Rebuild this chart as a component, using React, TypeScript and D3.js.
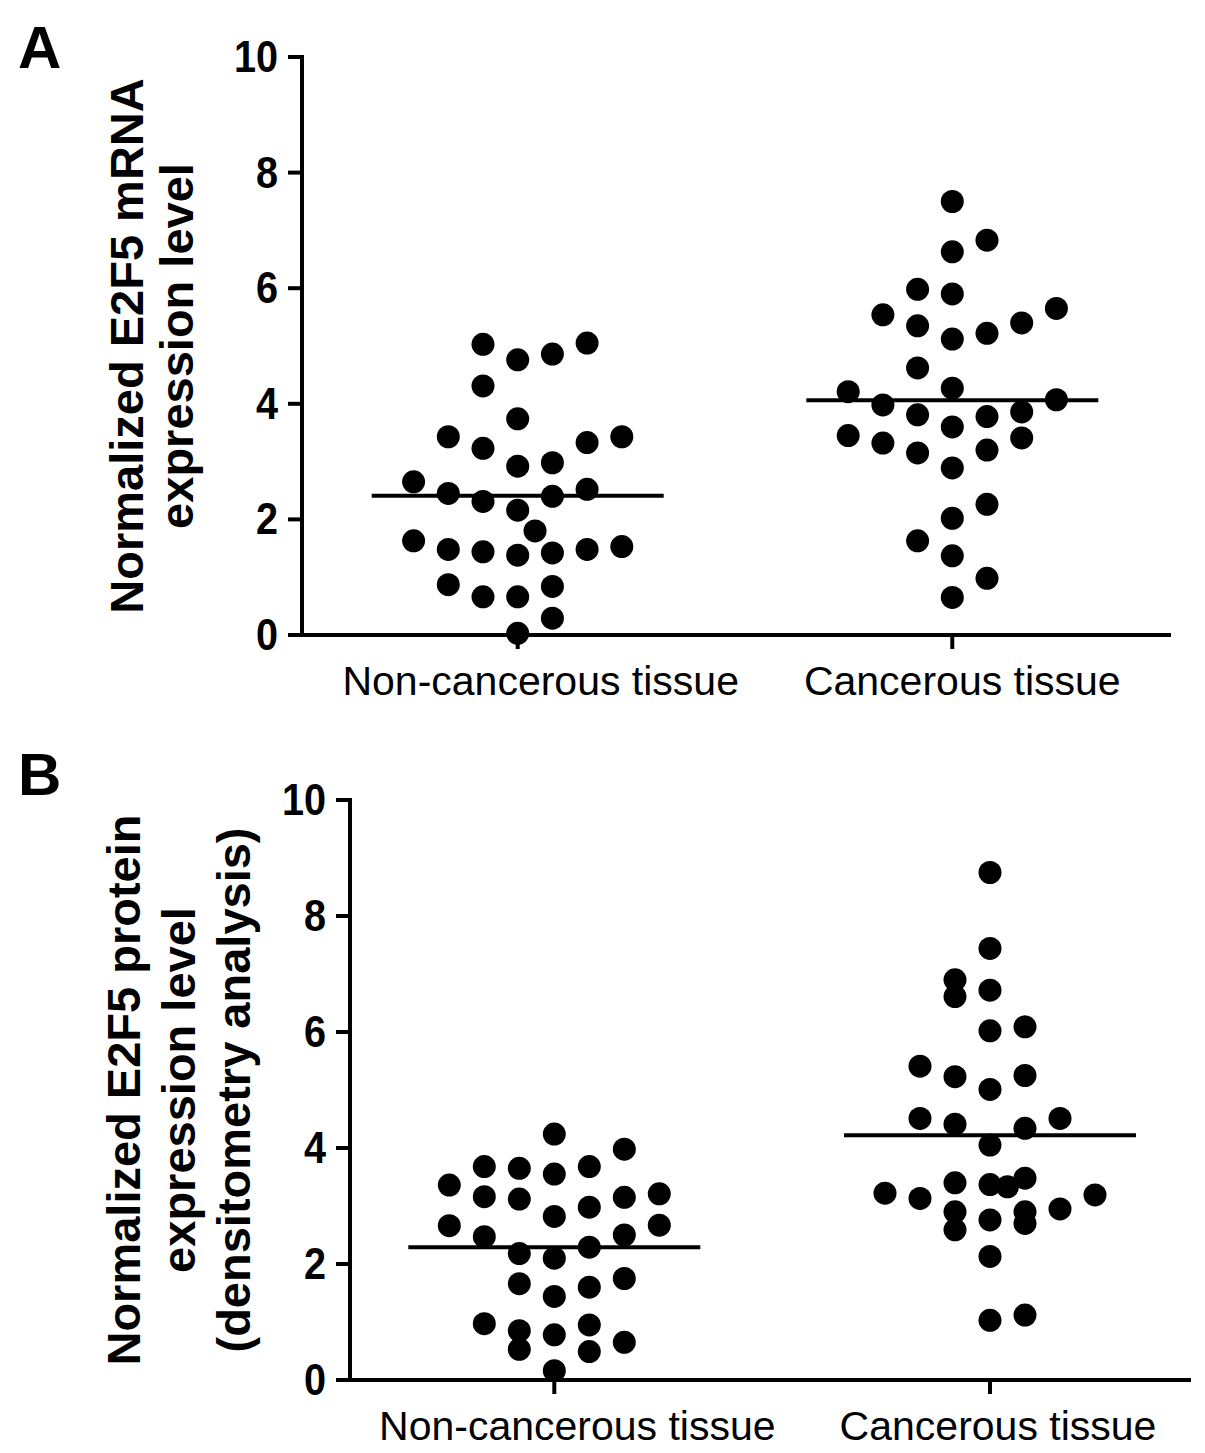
import React from "react";
import * as d3 from "d3";

// ---------- DATA ----------
const categories = ["Non-cancerous tissue", "Cancerous tissue"];
const yTicks = [0, 2, 4, 6, 8, 10];

// Panel A: mRNA (value, jitter column)
const mrnaNonCancerValues = [5.03, 4.76, 4.86, 5.05, 4.31, 3.74, 3.43, 3.23, 3.33, 3.43, 2.92, 2.98, 2.65, 2.45, 2.31, 2.4, 2.52, 2.16, 1.8, 1.63, 1.48, 1.44, 1.38, 1.42, 1.48, 1.53, 0.87, 0.66, 0.66, 0.84, 0.29, 0.03];
const mrnaNonCancerCols = [-1, 0, 1, 2, -1, 0, -2, -1, 2, 3, 0, 1, -3, -2, -1, 1, 2, 0, 0.5, -3, -2, -1, 0, 1, 2, 3, -2, -1, 0, 1, 1, 0];
const mrnaCancerValues = [7.5, 6.83, 6.63, 5.98, 5.9, 5.54, 5.35, 5.12, 5.22, 5.4, 5.65, 4.62, 4.27, 4.21, 3.98, 4.07, 3.81, 3.78, 3.86, 3.6, 3.45, 3.32, 3.15, 3.2, 3.41, 2.89, 2.26, 2.02, 1.63, 1.37, 0.98, 0.65];
const mrnaCancerCols = [0, 1, 0, -1, 0, -2, -1, 0, 1, 2, 3, -1, 0, -3, -2, 3, -1, 1, 2, 0, -3, -2, -1, 1, 2, 0, 1, 0, -1, 0, 1, 0];
const mrnaMeans = [2.41, 4.06];

// Panel B: protein
const protNonCancerValues = [4.24, 3.98, 3.68, 3.65, 3.55, 3.68, 3.36, 3.16, 3.12, 3.15, 3.21, 2.98, 2.82, 2.66, 2.67, 2.47, 2.5, 2.29, 2.18, 2.1, 1.66, 1.6, 1.75, 1.44, 0.97, 0.85, 0.78, 0.95, 0.53, 0.49, 0.65, 0.16];
const protNonCancerCols = [0, 2, -2, -1, 0, 1, -3, -2, -1, 2, 3, 1, 0, -3, 3, -2, 2, 1, -1, 0, -1, 1, 2, 0, -2, -1, 0, 1, -1, 1, 2, 0];
const protCancerValues = [8.75, 7.44, 6.9, 6.61, 6.72, 6.02, 6.09, 5.41, 5.23, 5.01, 5.25, 4.51, 4.41, 4.34, 4.51, 4.05, 3.22, 3.13, 3.4, 3.37, 3.33, 3.48, 2.95, 3.19, 2.9, 2.59, 2.76, 2.9, 2.7, 2.13, 1.03, 1.12];
const protCancerCols = [0, 0, -1, -1, 0, 0, 1, -2, -1, 0, 1, -2, -1, 1, 2, 0, -3, -2, -1, 0, 0.5, 1, 2, 3, -1, -1, 0, 1, 1, 0, 0, 1];
const protMeans = [2.29, 4.22];

const FONT = "'Liberation Sans', Arial, Helvetica, sans-serif";

type PanelProps = {
  letter: string;
  letterY: number;
  axisX: number;
  axisXEnd: number;
  yTop: number;
  yBottom: number;
  catRange: [number, number];
  colStep: number;
  labelDx: [number, number];
  labelBaseline: number;
  yLabelLines: string[];
  yLabelBaselines: number[];
  groups: { values: number[]; cols: number[] }[];
  means: number[];
};

function Panel(p: PanelProps) {
  const y = d3.scaleLinear().domain([0, 10]).range([p.yBottom, p.yTop]);
  const x = d3.scalePoint<string>().domain(categories).range(p.catRange).padding(0);
  const yCenter = (p.yTop + p.yBottom) / 2;
  const meanHalf = 146;
  const r = 11.5;
  return (
    <g>
      <text x={18} y={p.letterY} fontFamily={FONT} fontWeight="bold" fontSize={60}>
        {p.letter}
      </text>
      {p.yLabelLines.map((t, i) => (
        <text
          key={i}
          transform={`translate(${p.yLabelBaselines[i]},${yCenter}) rotate(-90)`}
          textAnchor="middle"
          fontFamily={FONT}
          fontWeight="bold"
          fontSize={47}
        >
          {t}
        </text>
      ))}
      {/* dots */}
      {p.groups.map((g, gi) =>
        g.values.map((v, i) => (
          <circle
            key={`${gi}-${i}`}
            cx={(x(categories[gi]) as number) + g.cols[i] * p.colStep}
            cy={y(v)}
            r={r}
            fill="#000"
          />
        ))
      )}
      {/* means */}
      {p.means.map((m, i) => (
        <line
          key={i}
          x1={(x(categories[i]) as number) - meanHalf}
          x2={(x(categories[i]) as number) + meanHalf}
          y1={y(m)}
          y2={y(m)}
          stroke="#000"
          strokeWidth={4}
        />
      ))}
      {/* axes */}
      <line x1={p.axisX} x2={p.axisX} y1={p.yTop - 2} y2={p.yBottom + 2} stroke="#000" strokeWidth={4} />
      <line x1={p.axisX - 14} x2={p.axisXEnd} y1={p.yBottom} y2={p.yBottom} stroke="#000" strokeWidth={4} />
      {yTicks.map((t) => (
        <g key={t}>
          <line x1={p.axisX - 14} x2={p.axisX} y1={y(t)} y2={y(t)} stroke="#000" strokeWidth={4} />
          <text
            transform={`translate(${p.axisX - 24},${y(t) + 15}) scale(0.9,1)`}
            textAnchor="end"
            fontFamily={FONT}
            fontWeight="bold"
            fontSize={44}
          >
            {t}
          </text>
        </g>
      ))}
      {categories.map((c, i) => (
        <g key={c}>
          <line
            x1={x(c) as number}
            x2={x(c) as number}
            y1={p.yBottom}
            y2={p.yBottom + 14}
            stroke="#000"
            strokeWidth={4}
          />
          <text
            x={(x(c) as number) + p.labelDx[i]}
            y={p.labelBaseline}
            textAnchor="middle"
            fontFamily={FONT}
            fontSize={41}
          >
            {c}
          </text>
        </g>
      ))}
    </g>
  );
}

export default function App() {
  return (
    <div style={{ position: "absolute", left: 0, top: 0 }}>
      <svg width={1205} height={1453} style={{ display: "block", background: "#fff" }}>
        <rect width={1205} height={1453} fill="#fff" />
        <Panel
          letter="A"
          letterY={68}
          axisX={302}
          axisXEnd={1171}
          yTop={57}
          yBottom={635}
          catRange={[517.7, 952.3]}
          colStep={34.7}
          labelDx={[23, 10]}
          labelBaseline={695}
          yLabelLines={["Normalized E2F5 mRNA", "expression level"]}
          yLabelBaselines={[143, 193]}
          groups={[
            { values: mrnaNonCancerValues, cols: mrnaNonCancerCols },
            { values: mrnaCancerValues, cols: mrnaCancerCols },
          ]}
          means={mrnaMeans}
        />
        <Panel
          letter="B"
          letterY={795}
          axisX={350}
          axisXEnd={1191}
          yTop={800}
          yBottom={1380}
          catRange={[554.3, 990]}
          colStep={35}
          labelDx={[23, 8]}
          labelBaseline={1440}
          yLabelLines={["Normalized E2F5 protein", "expression level", "(densitometry analysis)"]}
          yLabelBaselines={[140, 195, 250]}
          groups={[
            { values: protNonCancerValues, cols: protNonCancerCols },
            { values: protCancerValues, cols: protCancerCols },
          ]}
          means={protMeans}
        />
      </svg>
    </div>
  );
}
